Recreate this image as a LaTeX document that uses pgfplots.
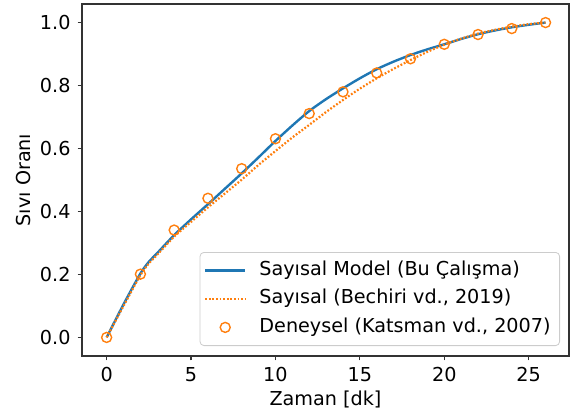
\documentclass[border=0pt]{standalone}
\usepackage{fontspec}
\setmainfont{DejaVu Sans}
\usepackage{pgfplots}
\pgfplotsset{compat=1.18}
\definecolor{mblue}{HTML}{1F77B4}
\definecolor{morange}{HTML}{FF7F0E}
\newcommand{\fs}{\fontsize{9.6pt}{11.5pt}\selectfont}

\begin{document}
\begin{tikzpicture}
\useasboundingbox (-41pt,-28pt) rectangle (244.5pt,178pt);
\begin{axis}[
  at={(0,0)}, anchor=south west,
  scale only axis, width=243.5pt, height=176pt,
  xmin=-1.46, xmax=27.39, ymin=-0.059, ymax=1.059,
  xtick={0,5,10,15,20,25},
  ytick={0,0.2,0.4,0.6,0.8,1.0},
  /pgf/number format/assume math mode=true,
  yticklabel style={/pgf/number format/.cd, fixed, fixed zerofill, precision=1},
  ticklabel style={font=\fs},
  tick align=outside, tick pos=left,
  major tick length=2.2pt,
  every tick/.style={black!80, line width=0.6pt},
  axis line style={black!80, line width=0.6pt},
  xlabel={Zaman [dk]},
  ylabel={Sıvı Oranı},
  label style={font=\fs},
  xlabel style={at={([yshift=-24.5pt]axis description cs:0.5,0)}, anchor=base},
  ylabel style={at={([xshift=-25.5pt]axis description cs:0,0.5)}, anchor=base},
  legend cell align=left,
  legend style={
    at={([xshift=-4.5pt,yshift=5pt]axis description cs:1,0)}, anchor=south east,
    draw=black!20, rounded corners=2pt, fill=white, fill opacity=0.8, text opacity=1,
    font=\fs, inner xsep=2pt, inner ysep=2pt,
    nodes={inner sep=2.5pt, text height=7pt, text depth=2.2pt},
    column sep=4pt,
  },
]
\addplot[mblue, line width=1.2pt, smooth, tension=0.4,
  legend image code/.code={\draw[mblue, line width=1.2pt] (0pt,0pt) -- (20pt,0pt);}]
  coordinates {
  (0,0) (1,0.105) (2,0.203) (2.5,0.24) (3,0.268) (4,0.325) (5,0.375) (6,0.423)
  (7,0.472) (8,0.521) (9,0.572) (10,0.624) (11,0.673) (12,0.719) (13,0.757)
  (14,0.791) (15,0.823) (16,0.852) (17,0.876) (18,0.897) (19,0.915) (20,0.931)
  (21,0.948) (22,0.963) (23,0.975) (24,0.985) (25,0.993) (26,1.0)
};
\addlegendentry{Sayısal Model (Bu Çalışma)}
\addplot[morange, line width=1.1pt, dash pattern=on 0.9pt off 0.9pt, smooth, tension=0.4,
  legend image code/.code={\draw[morange, line width=1.1pt, dash pattern=on 0.9pt off 0.9pt] (0pt,0pt) -- (20pt,0pt);}]
  coordinates {
  (0,0) (1,0.1) (2,0.198) (2.5,0.235) (3,0.263) (4,0.32) (5,0.367) (6,0.413)
  (7,0.457) (8,0.501) (9,0.548) (10,0.592) (11,0.635) (12,0.675) (13,0.716)
  (14,0.754) (15,0.79) (16,0.823) (17,0.853) (18,0.881) (19,0.907) (20,0.93)
  (21,0.949) (22,0.965) (23,0.977) (24,0.987) (25,0.995) (26,1.0)
};
\addlegendentry{Sayısal (Bechiri vd., 2019)}
\addplot[only marks, mark=o, mark size=2.5pt, mark options={morange, line width=0.7pt},
  legend image code/.code={\draw[morange, line width=0.7pt] (10pt,0pt) circle (2.5pt);}]
  coordinates {
  (0,0) (2,0.201) (4,0.341) (6,0.442) (8,0.536) (10,0.631) (12,0.711)
  (14,0.78) (16,0.84) (18,0.885) (20,0.931) (22,0.962) (24,0.981) (26,1.0)
};
\addlegendentry{Deneysel (Katsman vd., 2007)}
\end{axis}
\end{tikzpicture}
\end{document}
